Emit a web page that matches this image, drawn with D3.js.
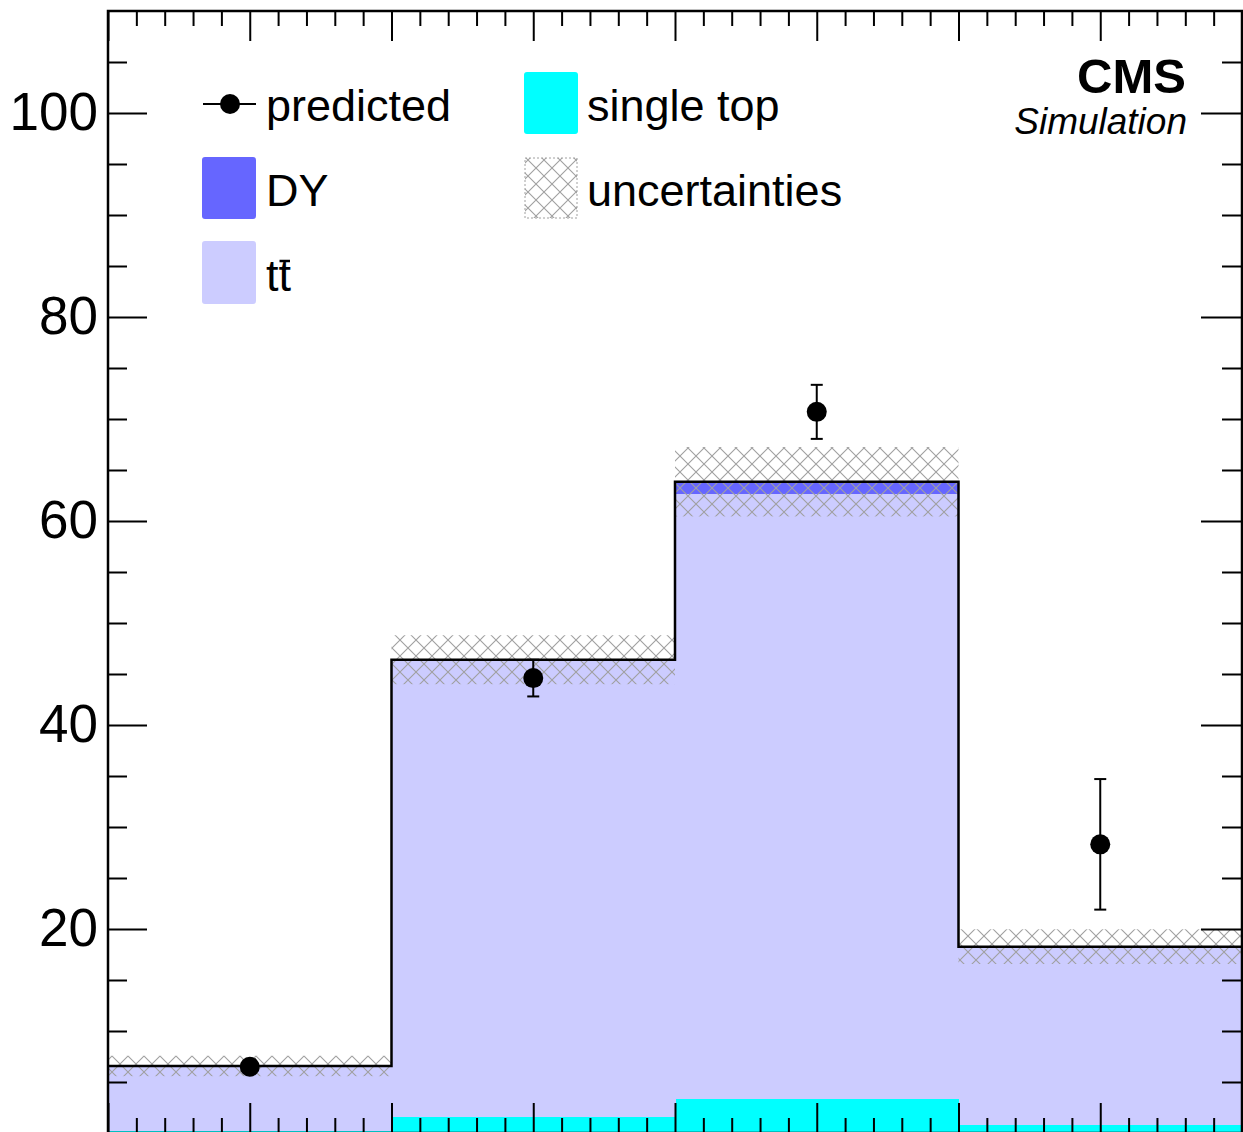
<!DOCTYPE html>
<html>
<head>
<meta charset="utf-8">
<script src="https://cdn.jsdelivr.net/npm/d3@7"></script>
<style>
  body { margin: 0; background: #fff; }
  svg { display: block; font-family: "Liberation Sans", Arial, Helvetica, sans-serif; }
</style>
</head>
<body>
<svg width="1243" height="1132"></svg>
<script>
// bins (no labels on the x axis in the original)
let bins = [0, 1, 2, 3];
// stacked backgrounds
let singleTop = [0.15, 1.55, 3.3, 0.75];
let ttbar = [6.32, 44.75, 59.35, 17.42];
let dy = [0.1, 0.1, 1.2, 0.1];
// uncertainty on the stacked total (half-width of hatched band)
let uncert = [1.0, 2.4, 3.4, 1.7];
// predicted points with errors
let predicted = [6.5, 44.6, 70.7, 28.3];
let predErr = [0.4, 1.8, 2.65, 6.4];
// y tick labels
let yMajor = [20, 40, 60, 80, 100];

let svg = d3.select("svg");

let pLeft = 108, pRight = 1242, pTop = 11, pBottom = 1133;

let x = d3.scaleLinear().domain([0, 4]).range([pLeft, pRight]);
let y = d3.scaleLinear().domain([0, 110]).range([pBottom, pTop]);

let ttColor = "#ccccff", dyColor = "#6666ff", stColor = "#00ffff";
let hatchColor = "#a0a0a0";

let defs = svg.append("defs");
defs.append("pattern")
    .attr("id", "hatch")
    .attr("patternUnits", "userSpaceOnUse")
    .attr("width", 16)
    .attr("height", 16)
  .append("path")
    .attr("d", "M0,0L16,16M16,0L0,16")
    .attr("stroke", hatchColor)
    .attr("stroke-width", 1.1)
    .attr("fill", "none");

defs.append("clipPath").attr("id", "plotClip")
  .append("rect")
    .attr("x", pLeft).attr("y", pTop)
    .attr("width", pRight - pLeft).attr("height", pBottom - pTop);

let rows = bins.map(i => ({bin: i, singleTop: singleTop[i], ttbar: ttbar[i], dy: dy[i]}));
let stack = d3.stack().keys(["singleTop", "ttbar", "dy"]);
let layers = stack(rows);
let layerColor = {singleTop: stColor, ttbar: ttColor, dy: dyColor};

let plot = svg.append("g").attr("clip-path", "url(#plotClip)");

// stacked fills
plot.append("g")
    .attr("shape-rendering", "crispEdges")
    .selectAll("g")
    .data(layers).enter().append("g")
    .attr("fill", d => layerColor[d.key])
    .selectAll("rect")
    .data(d => d).enter().append("rect")
        .attr("x", d => x(d.data.bin))
        .attr("width", d => x(d.data.bin + 1) - x(d.data.bin) + 0.5)
        .attr("y", d => y(d[1]))
        .attr("height", d => Math.max(0, y(d[0]) - y(d[1])));

let totals = bins.map(i => singleTop[i] + ttbar[i] + dy[i]);

// uncertainty band
plot.append("g").selectAll("rect")
    .data(bins).enter().append("rect")
        .attr("x", i => x(i))
        .attr("width", i => x(i + 1) - x(i))
        .attr("y", i => y(totals[i] + uncert[i]))
        .attr("height", i => y(totals[i] - uncert[i]) - y(totals[i] + uncert[i]))
        .attr("fill", "url(#hatch)");

// step outline of the total
let stepPts = [];
bins.forEach(i => {
    stepPts.push([x(i), y(totals[i])]);
    stepPts.push([x(i + 1), y(totals[i])]);
});
plot.append("path")
    .attr("d", d3.line()(stepPts))
    .attr("fill", "none")
    .attr("stroke", "#000")
    .attr("stroke-width", 2.5);

// frame
svg.append("rect")
    .attr("x", pLeft).attr("y", pTop)
    .attr("width", pRight - pLeft).attr("height", pBottom - pTop)
    .attr("fill", "none")
    .attr("stroke", "#000")
    .attr("stroke-width", 2.5);

function styleAxis(g) {
    g.select(".domain").remove();
    g.selectAll(".tick line").attr("stroke", "#000").attr("stroke-width", 2);
}

// y axes
let yMinorTicks = d3.range(5, 110, 5).filter(v => v % 20 !== 0);
svg.append("g")
    .attr("transform", `translate(${pLeft},0)`)
    .call(d3.axisLeft(y).tickValues(yMinorTicks).tickSize(-19).tickFormat(""))
    .call(styleAxis);
svg.append("g")
    .attr("transform", `translate(${pLeft},0)`)
    .call(d3.axisLeft(y).tickValues(yMajor).tickSize(-39).tickPadding(10))
    .call(styleAxis)
    .call(g => g.selectAll("text")
        .attr("fill", "#000")
        .style("font-size", "53px")
        .style("font-family", "'Liberation Sans', Arial, sans-serif"));
svg.append("g")
    .attr("transform", `translate(${pRight},0)`)
    .call(d3.axisRight(y).tickValues(yMinorTicks).tickSize(-20).tickFormat(""))
    .call(styleAxis);
svg.append("g")
    .attr("transform", `translate(${pRight},0)`)
    .call(d3.axisRight(y).tickValues(yMajor).tickSize(-41).tickFormat(""))
    .call(styleAxis);

// x axes (ticks pointing inward on bottom and top)
let xMajorTicks = d3.range(0, 4.01, 0.5);
let xMinorTicks = d3.range(0, 40).map(v => v / 10).filter((v, k) => k % 5 !== 0);
[[pBottom, d3.axisBottom], [pTop, d3.axisTop]].forEach(([pos, ax]) => {
    svg.append("g")
        .attr("transform", `translate(0,${pos})`)
        .call(ax(x).tickValues(xMinorTicks).tickSize(-15).tickFormat(""))
        .call(styleAxis);
    svg.append("g")
        .attr("transform", `translate(0,${pos})`)
        .call(ax(x).tickValues(xMajorTicks).tickSize(-30).tickFormat(""))
        .call(styleAxis);
});

// predicted points
let pts = svg.append("g");
let cx = i => (x(i) + x(i + 1)) / 2;
pts.selectAll("line.err")
    .data(bins).enter().append("line")
        .attr("class", "err")
        .attr("x1", cx).attr("x2", cx)
        .attr("y1", i => y(predicted[i] + predErr[i]))
        .attr("y2", i => y(predicted[i] - predErr[i]))
        .attr("stroke", "#000").attr("stroke-width", 2);
[1, -1].forEach(s => {
    pts.selectAll("line.cap" + (s > 0 ? "u" : "d"))
        .data(bins).enter().append("line")
            .attr("x1", i => cx(i) - 6).attr("x2", i => cx(i) + 6)
            .attr("y1", i => y(predicted[i] + s * predErr[i]))
            .attr("y2", i => y(predicted[i] + s * predErr[i]))
            .attr("stroke", "#000").attr("stroke-width", 2);
});
pts.selectAll("circle")
    .data(bins).enter().append("circle")
        .attr("cx", cx)
        .attr("cy", i => y(predicted[i]))
        .attr("r", 10)
        .attr("fill", "#000");

// legend
let legend = svg.append("g").style("font-size", "45px");

legend.append("line")
    .attr("x1", 203).attr("x2", 256).attr("y1", 104).attr("y2", 104)
    .attr("stroke", "#000").attr("stroke-width", 2);
legend.append("circle").attr("cx", 230).attr("cy", 104).attr("r", 10).attr("fill", "#000");
legend.append("text").attr("x", 266).attr("y", 121).text("predicted");

legend.append("rect").attr("x", 202).attr("y", 157).attr("width", 54).attr("height", 62)
    .attr("rx", 3).attr("fill", dyColor);
legend.append("text").attr("x", 266).attr("y", 206).text("DY");

legend.append("rect").attr("x", 202).attr("y", 241).attr("width", 54).attr("height", 63)
    .attr("rx", 3).attr("fill", ttColor);
let ttText = legend.append("text").attr("x", 266).attr("y", 291).text("t");
let w1 = ttText.node().getComputedTextLength();
ttText.text("tt");
let w2 = ttText.node().getComputedTextLength();
legend.append("line")
    .attr("x1", 266 + w1 + 1).attr("x2", 266 + w2 - 1)
    .attr("y1", 261).attr("y2", 261)
    .attr("stroke", "#000").attr("stroke-width", 2.5);

legend.append("rect").attr("x", 524).attr("y", 72).attr("width", 54).attr("height", 62)
    .attr("rx", 3).attr("fill", stColor);
legend.append("text").attr("x", 587).attr("y", 121).text("single top");

legend.append("rect").attr("x", 525).attr("y", 158).attr("width", 52).attr("height", 60)
    .attr("fill", "url(#hatch)")
    .attr("stroke", hatchColor).attr("stroke-width", 1).attr("stroke-dasharray", "2,2");
legend.append("text").attr("x", 587).attr("y", 206).text("uncertainties");

// CMS label
svg.append("text")
    .attr("x", 1186).attr("y", 93)
    .attr("text-anchor", "end")
    .style("font-size", "49px").style("font-weight", "bold")
    .text("CMS");
svg.append("text")
    .attr("x", 1187).attr("y", 134)
    .attr("text-anchor", "end")
    .style("font-size", "37px").style("font-style", "italic")
    .text("Simulation");
</script>
</body>
</html>
